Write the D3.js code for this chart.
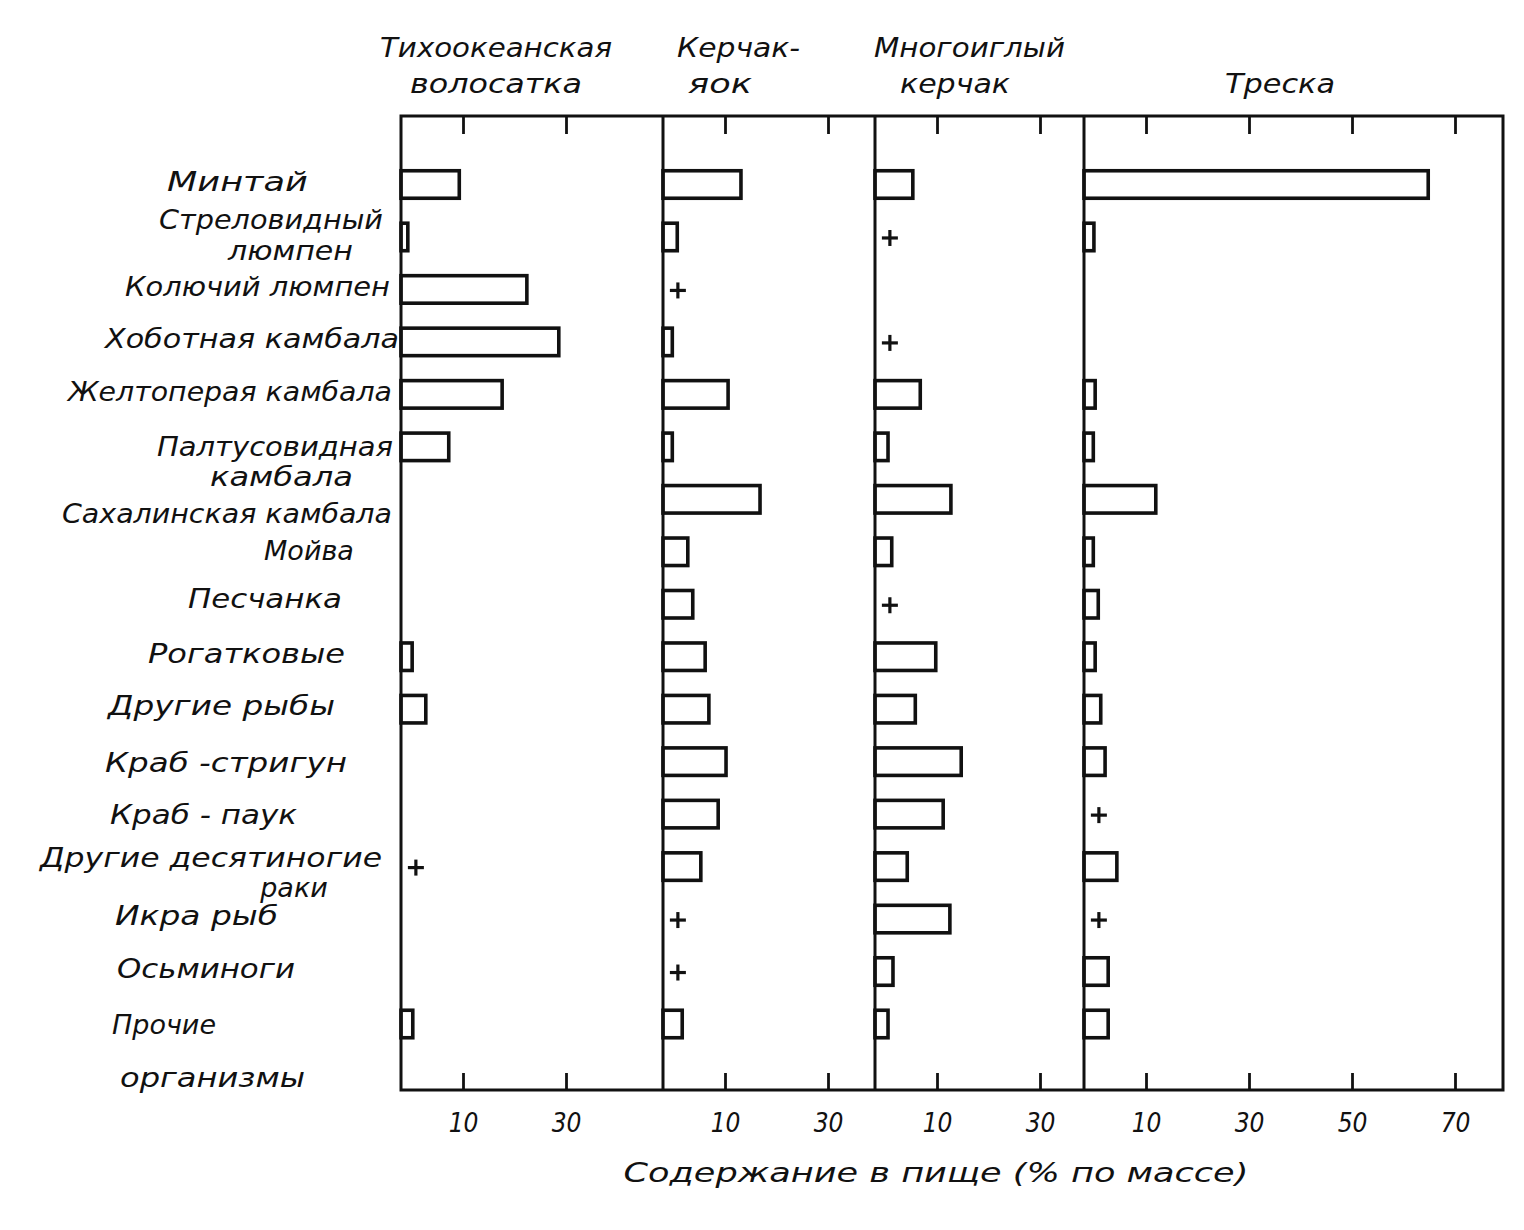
<!DOCTYPE html>
<html>
<head>
<meta charset="utf-8">
<script src="https://cdn.jsdelivr.net/npm/d3@7"></script>
<style>
  html, body { margin: 0; padding: 0; background: #fff; }
  svg { display: block; }
  text { font-family: "DejaVu Sans", sans-serif; font-style: italic; fill: #111; }
</style>
</head>
<body>
<svg id="chart" width="1524" height="1230"></svg>
<script>
// ---------------- DATA ----------------
const categories = [
  "Минтай", "Стреловидный люмпен", "Колючий люмпен", "Хоботная камбала",
  "Желтоперая камбала", "Палтусовидная камбала", "Сахалинская камбала", "Мойва",
  "Песчанка", "Рогатковые", "Другие рыбы", "Краб-стригун", "Краб-паук",
  "Другие десятиногие раки", "Икра рыб", "Осьминоги", "Прочие организмы"
];
// label text as printed (line breaks as in the figure)
const categoryLines = [
  ["Минтай"], ["Стреловидный", "люмпен"], ["Колючий люмпен"], ["Хоботная камбала"],
  ["Желтоперая камбала"], ["Палтусовидная", "камбала"], ["Сахалинская камбала"], ["Мойва"],
  ["Песчанка"], ["Рогатковые"], ["Другие рыбы"], ["Краб -стригун"], ["Краб - паук"],
  ["Другие десятиногие", "раки"], ["Икра рыб"], ["Осьминоги"], ["Прочие", "организмы"]
];
const predators = ["Тихоокеанская волосатка", "Керчак-яок", "Многоиглый керчак", "Треска"];
const predatorLines = [["Тихоокеанская", "волосатка"], ["Керчак-", "яок"], ["Многоиглый", "керчак"], ["", "Треска"]];

// % by mass; null = absent, "+" = trace amount
const volosatka = [9.4, 1.1, 22.4, 28.6, 17.6, 7.7, null, null, null, 1.8, 4.0, null, null, "+", null, null, 1.9];
const kerchakYaok = [13.1, 2.3, "+", 1.5, 10.6, 1.5, 16.8, 4.0, 4.8, 6.8, 7.4, 10.2, 8.9, 6.1, "+", "+", 3.1];
const mnogoiglyKerchak = [6.1, "+", null, "+", 7.3, 2.1, 12.7, 2.7, "+", 9.8, 6.5, 14.7, 11.2, 5.2, 12.5, 2.9, 2.1];
const treska = [64.8, 1.6, null, null, 1.8, 1.5, 11.9, 1.5, 2.3, 1.8, 2.7, 3.4, "+", 5.3, "+", 3.9, 3.9];
const series = [volosatka, kerchakYaok, mnogoiglyKerchak, treska];

const tickValuesShort = [10, 30];
const tickValuesLong = [10, 30, 50, 70];
const panelTicks = [tickValuesShort, tickValuesShort, tickValuesShort, tickValuesLong];
const traceValue = 2.4;   // where the "+" sign sits on the axis
const xTitle = "Содержание  в  пище  (%  по  массе)";

// ---------------- LAYOUT ----------------
const panelEdges = [401, 663, 875, 1084, 1503];
const plotTop = 116, plotBottom = 1090;
const firstRow = 184.5, lastRow = 1024;
const barH = 27.5;
const breakPx = 62;        // pixel distance of the "10" mark from panel edge
const pxPerUnit = 5.15;    // spacing beyond 10

// label extents [x0, x1] and baseline offset from row centre, per line
const labelLayout = [
  [[165, 310, 6]],
  [[159, 383, -8], [228, 353, 23]],
  [[125, 390, 7]],
  [[105, 399, 6]],
  [[68, 392, 7]],
  [[157, 393, 9], [210, 353, 39]],
  [[62, 392, 24]],
  [[268, 350, 8]],
  [[188, 342, 4]],
  [[148, 345, 6]],
  [[108, 335, 6]],
  [[105, 347, 10]],
  [[110, 297, 10]],
  [[40, 382, 0], [268, 320, 30]],
  [[115, 278, 6]],
  [[117, 295, 6]],
  [[120, 208, 10], [120, 305, 63]]
];
const titleLayout = [
  [[380, 612, 57], [410, 582, 93]],
  [[677, 800, 57], [688, 752, 93]],
  [[874, 1065, 57], [900, 1010, 93]],
  [[0, 0, 57], [1225, 1335, 93]]
];

// ---------------- DRAW ----------------
const svg = d3.select("#chart");
const y = d3.scalePoint().domain(categories).range([firstRow, lastRow]);
const ink = "#111";

// fit a text into [x0, x1]: stretch glyphs (never compress), centred in the span
function fitText(sel, x0, x1) {
  const target = x1 - x0;
  const natural = sel.node().getComputedTextLength();
  const cx = (x0 + x1) / 2;
  if (target <= natural) {
    sel.attr("x", cx - natural / 2);
    return;
  }
  const len = Math.min(target, natural * 1.3);
  sel.attr("x", cx - len / 2)
     .attr("textLength", len)
     .attr("lengthAdjust", "spacingAndGlyphs");
}

// category labels
categories.forEach((c, i) => {
  categoryLines[i].forEach((line, j) => {
    const [x0, x1, dy] = labelLayout[i][j];
    const t = svg.append("text")
      .attr("x", x0).attr("y", y(c) + dy)
      .style("font-size", "27px")
      .text(line);
    fitText(t, x0, x1);
  });
});

// predator titles
predators.forEach((p, i) => {
  predatorLines[i].forEach((line, j) => {
    if (!line) return;
    const [x0, x1, by] = titleLayout[i][j];
    const t = svg.append("text")
      .attr("x", x0).attr("y", by)
      .style("font-size", "27px")
      .text(line);
    fitText(t, x0, x1);
  });
});

// panels
series.forEach((vals, pi) => {
  const x0 = panelEdges[pi], x1 = panelEdges[pi + 1];
  const dMax = 10 + (x1 - x0 - breakPx) / pxPerUnit;
  const x = d3.scaleLinear().domain([0, 10, dMax]).range([x0, x0 + breakPx, x1]);
  const g = svg.append("g");

  const rows = categories.map((c, i) => ({ c, v: vals[i] }));

  // bars
  g.selectAll("rect.bar")
    .data(rows.filter(d => typeof d.v === "number"))
    .join("rect")
    .attr("class", "bar")
    .attr("x", x(0))
    .attr("y", d => y(d.c) - barH / 2)
    .attr("width", d => x(d.v) - x(0))
    .attr("height", barH)
    .attr("fill", "#fff")
    .attr("stroke", ink)
    .attr("stroke-width", 3.6);

  // trace marks
  const plus = 8;
  const tr = g.selectAll("g.trace")
    .data(rows.filter(d => d.v === "+"))
    .join("g")
    .attr("class", "trace")
    .attr("transform", d => `translate(${x(traceValue)},${y(d.c) + 1})`);
  tr.append("line").attr("x1", -plus).attr("x2", plus).attr("y1", 0).attr("y2", 0)
    .attr("stroke", ink).attr("stroke-width", 3.2);
  tr.append("line").attr("x1", 0).attr("x2", 0).attr("y1", -plus).attr("y2", plus)
    .attr("stroke", ink).attr("stroke-width", 3.2);

  // bottom axis (ticks pointing inward)
  const axB = g.append("g").attr("transform", `translate(0,${plotBottom})`)
    .call(d3.axisBottom(x).tickValues(panelTicks[pi]).tickSize(-17).tickPadding(0).tickFormat(d3.format("d")));
  axB.select(".domain").remove();
  axB.selectAll(".tick line").attr("stroke", ink).attr("stroke-width", 2.8);
  axB.selectAll(".tick text")
    .attr("y", 42).attr("dy", 0)
    .attr("font-family", null).attr("font-size", null)
    .style("font-family", "'DejaVu Sans Condensed', 'DejaVu Sans', sans-serif")
    .style("font-style", "italic")
    .style("font-size", "26px")
    .attr("fill", ink);

  // top axis
  const axT = g.append("g").attr("transform", `translate(0,${plotTop})`)
    .call(d3.axisTop(x).tickValues(panelTicks[pi]).tickSize(-18).tickFormat(""));
  axT.select(".domain").remove();
  axT.selectAll(".tick line").attr("stroke", ink).attr("stroke-width", 2.8);
});

// frame and dividers
svg.append("rect")
  .attr("x", panelEdges[0]).attr("y", plotTop)
  .attr("width", panelEdges[4] - panelEdges[0]).attr("height", plotBottom - plotTop)
  .attr("fill", "none").attr("stroke", ink).attr("stroke-width", 3);
svg.selectAll("line.divider")
  .data(panelEdges.slice(1, 4))
  .join("line")
  .attr("class", "divider")
  .attr("x1", d => d).attr("x2", d => d)
  .attr("y1", plotTop).attr("y2", plotBottom)
  .attr("stroke", ink).attr("stroke-width", 3);

// axis title
const xt = svg.append("text")
  .attr("x", 622).attr("y", 1182)
  .style("font-size", "27px")
  .text(xTitle);
fitText(xt, 622, 1250);
</script>
</body>
</html>
